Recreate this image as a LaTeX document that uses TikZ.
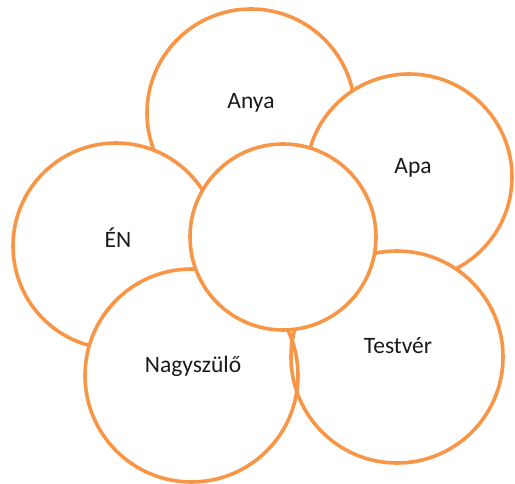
\documentclass[tikz,border=0pt]{standalone}
\usepackage{fontspec}
\setmainfont{Carlito}
\definecolor{ring}{HTML}{F79646}
\definecolor{ink}{HTML}{1A1A1A}
\begin{document}
\begin{tikzpicture}[x=1pt,y=-1pt,
  ringbase/.style={circle,inner sep=0pt,minimum size=#1},
  ringfull/.style={ringbase=#1,draw=ring,fill=white,line width=3.6pt},
  ringfill/.style={ringbase=#1,fill=white},
  ringline/.style={ringbase=#1,draw=ring,line width=3.6pt},
  lbl/.style={text=ink,font=\fontsize{23.5}{28}\selectfont,inner sep=0pt}]
\useasboundingbox (0,0) rectangle (515,484);
\node[ringfull=208pt] (anya) at (251,113) {};
\node[ringfull=206pt] (apa) at (409,177) {};
\node[ringfull=206pt] (en) at (116,246) {};
\node[ringfill=213pt] (nagyF) at (191.5,375.5) {};
\node[ringfill=212pt] (testF) at (397,357) {};
\node[ringline=213pt] (nagy) at (191.5,375.5) {};
\node[ringline=212pt] (test) at (397,357) {};
\node[ringfull=186pt] (kozep) at (283,237) {};
\node[lbl] (tanya) at (251,103) {Anya};
\node[lbl] (tapa) at (413,168) {Apa};
\node[lbl] (ten) at (118,238) {ÉN};
\node[lbl] (tnagy) at (193,366) {Nagyszülő};
\node[lbl] (ttest) at (398,346) {Testvér};
\end{tikzpicture}
\end{document}
